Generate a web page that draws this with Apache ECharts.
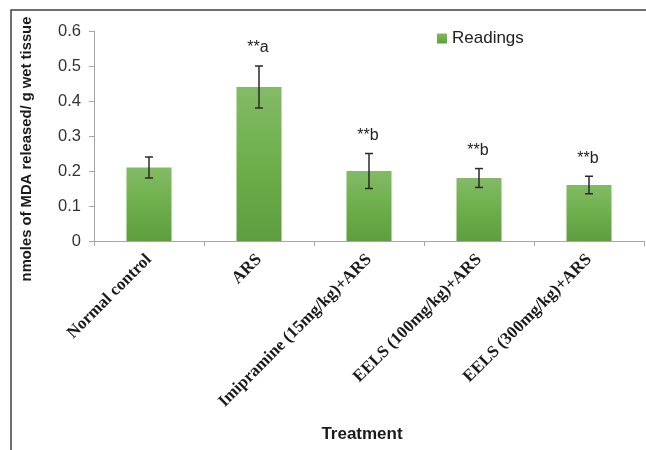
<!DOCTYPE html>
<html>
<head>
<meta charset="utf-8">
<script src="https://cdn.jsdelivr.net/npm/echarts@6/dist/echarts.min.js"></script>
<style>
  html, body { margin: 0; padding: 0; background: #fff; }
  #chart { width: 646px; height: 450px; }
</style>
</head>
<body>
<div id="chart"></div>
<script>
// MDA levels per treatment group (mean ± error)
const categories = [
  'Normal control',
  'ARS',
  'Imipramine (15mg/kg)+ARS',
  'EELS (100mg/kg)+ARS',
  'EELS (300mg/kg)+ARS'
];
const readings = [0.21, 0.44, 0.20, 0.18, 0.16];
const errors = [0.03, 0.06, 0.05, 0.027, 0.025];
const significance = ['', '**a', '**b', '**b', '**b'];
const yTicks = [0, 0.1, 0.2, 0.3, 0.4, 0.5, 0.6];

const chart = echarts.init(document.getElementById('chart'), null, { renderer: 'canvas' });

const errorData = readings.map((v, i) => [i, v - errors[i], v + errors[i]]);
const labelData = readings.map((v, i) => [i, v + errors[i]]);

const axisGray = '#a6a6a6';

chart.setOption({
  animation: false,
  backgroundColor: '#ffffff',
  grid: { left: 94, right: 2, top: 31, bottom: 209, containLabel: false },
  legend: {
    data: ['Readings'],
    left: 432,
    top: 25,
    icon: 'rect',
    itemWidth: 10,
    itemHeight: 10,
    textStyle: { fontFamily: 'Liberation Sans, Arial', fontSize: 17, color: '#222' }
  },
  xAxis: {
    type: 'category',
    data: categories,
    axisLine: { show: true, lineStyle: { color: axisGray, width: 1 } },
    axisTick: { show: true, length: 5, lineStyle: { color: axisGray } },
    axisLabel: {
      rotate: 45,
      margin: 16,
      interval: 0,
      fontFamily: 'Liberation Serif, Times New Roman',
      fontWeight: 'bold',
      fontSize: 17,
      color: '#1a1a1a'
    },
    splitLine: { show: false }
  },
  yAxis: {
    type: 'value',
    min: yTicks[0],
    max: yTicks[yTicks.length - 1],
    interval: 0.1,
    axisLine: { show: true, lineStyle: { color: axisGray, width: 1 } },
    axisTick: { show: true, length: 5, lineStyle: { color: axisGray } },
    axisLabel: {
      margin: 13,
      fontFamily: 'Liberation Sans, Arial',
      fontSize: 16.5,
      color: '#333',
      formatter: v => (Math.round(v * 10) / 10).toString()
    },
    splitLine: { show: false }
  },
  series: [
    {
      name: 'Readings',
      type: 'bar',
      data: readings,
      barWidth: 45,
      itemStyle: {
        color: new echarts.graphic.LinearGradient(0, 0, 0, 1, [
          { offset: 0, color: '#84ba67' },
          { offset: 0.5, color: '#6daf4a' },
          { offset: 1, color: '#5f9d40' }
        ])
      }
    },
    {
      name: 'error',
      type: 'custom',
      data: errorData,
      z: 5,
      renderItem: function (params, api) {
        const x = api.coord([api.value(0), 0])[0];
        const lo = api.coord([api.value(0), api.value(1)])[1];
        const hi = api.coord([api.value(0), api.value(2)])[1];
        const half = 4;
        const style = { stroke: '#2a2a2a', lineWidth: 1.5 };
        return {
          type: 'group',
          children: [
            { type: 'line', shape: { x1: x, y1: lo, x2: x, y2: hi }, style: style },
            { type: 'line', shape: { x1: x - half, y1: hi, x2: x + half, y2: hi }, style: style },
            { type: 'line', shape: { x1: x - half, y1: lo, x2: x + half, y2: lo }, style: style }
          ]
        };
      }
    },
    {
      name: 'sig',
      type: 'custom',
      data: labelData,
      z: 6,
      renderItem: function (params, api) {
        const p = api.coord([api.value(0), api.value(1)]);
        return {
          type: 'text',
          x: p[0] - 1,
          y: p[1] - 18,
          style: {
            text: significance[params.dataIndex],
            fill: '#222',
            font: '16px "Liberation Sans", Arial',
            align: 'center',
            verticalAlign: 'middle'
          }
        };
      }
    }
  ],
  graphic: [
    {
      type: 'rect',
      shape: { x: 11, y: 10, width: 700, height: 500 },
      style: { fill: 'none', stroke: '#404040', lineWidth: 1.5 },
      silent: true
    },
    {
      type: 'text',
      x: 27,
      y: 149,
      rotation: Math.PI / 2,
      style: {
        text: 'nmoles of MDA released/ g wet tissue',
        fill: '#1a1a1a',
        font: 'bold 14.8px "Liberation Sans", Arial',
        align: 'center',
        verticalAlign: 'middle'
      }
    },
    {
      type: 'text',
      x: 362,
      y: 434,
      style: {
        text: 'Treatment',
        fill: '#1a1a1a',
        font: 'bold 17px "Liberation Sans", Arial',
        align: 'center',
        verticalAlign: 'middle'
      }
    }
  ]
});
</script>
</body>
</html>
